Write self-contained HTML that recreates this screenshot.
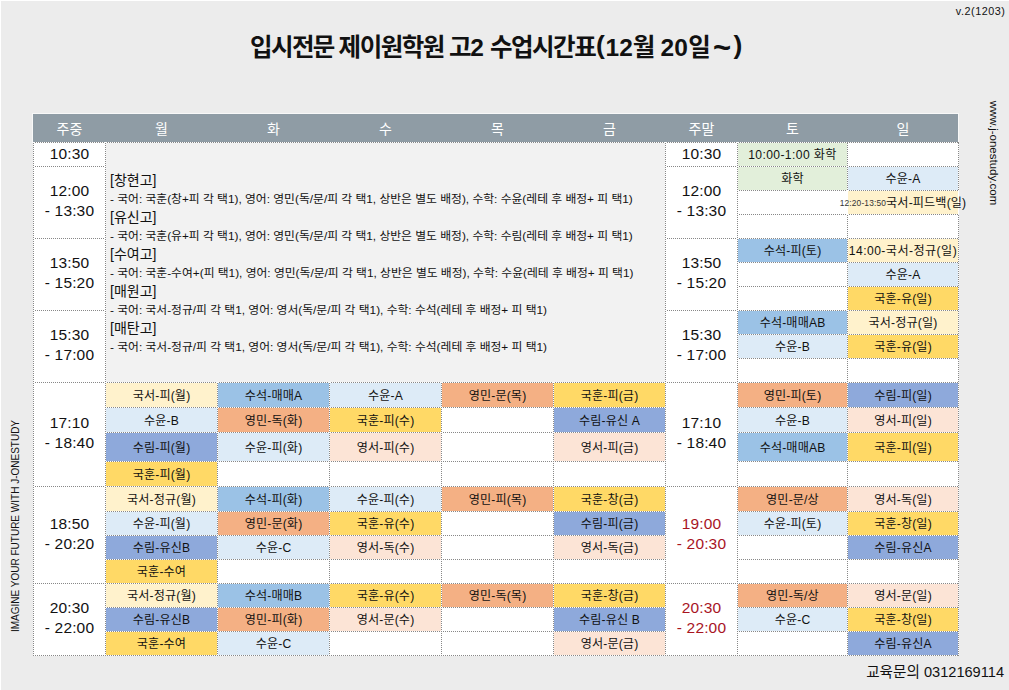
<!DOCTYPE html>
<html lang="ko"><head><meta charset="utf-8"><title>입시전문 제이원학원 고2 수업시간표</title>
<style>
*{margin:0;padding:0;box-sizing:border-box}
html,body{width:1009px;height:690px;overflow:hidden}
body{background:#ececec;font-family:'Liberation Sans','Noto Sans CJK KR',sans-serif;color:#111;position:relative}
#wt{position:absolute;left:0;top:0;width:1009px;height:1px;background:#fff}
#wl{position:absolute;left:0;top:0;width:1px;height:690px;background:#fff}
.a{position:absolute}
.r{position:absolute}
.t{position:absolute;display:flex;align-items:center;justify-content:center;text-align:center;white-space:nowrap;font-size:12.1px;line-height:1.2;padding-top:2px;letter-spacing:0.15px}
.h{position:absolute;height:1px;background:repeating-linear-gradient(90deg,#888888 0 1px,#fff 1px 2px)}
.v{position:absolute;width:1px;background:repeating-linear-gradient(180deg,#888888 0 1px,#fff 1px 2px)}
.hd{position:absolute;top:114px;height:28px;display:flex;align-items:center;justify-content:center;color:#fff;font-size:14px}
#ver{position:absolute;right:3.5px;top:5px;font-size:10.8px;letter-spacing:0.55px;color:#111}
#title{position:absolute;left:0;top:0;width:1009px;height:80px;font-weight:bold;color:#111}
#title span{position:absolute;white-space:nowrap;top:32.5px;font-size:24.5px;line-height:30px}
#hbar{position:absolute;left:33px;top:114px;width:925px;height:28px;background:#8f9ca5;box-shadow:0 0 0 1px #f8f8f8}
#tbl{position:absolute;left:33px;top:142px;width:926px;height:514px;background:#fff}
#merged{position:absolute;left:106px;top:143px;width:559px;height:239px;background:#f2f2f2}
#mtxt{position:absolute;left:110px;top:171px;white-space:nowrap}
.sh{font-size:14px;line-height:19px;height:19px}
.sd{font-size:11.8px;line-height:18px;height:18px}
#url{position:absolute;left:994px;top:153px;transform:translate(-50%,-50%) rotate(90deg);font-size:11.5px;white-space:nowrap;color:#111}
#slogan{position:absolute;left:15px;top:526px;transform:translate(-50%,-50%) rotate(-90deg);font-size:10px;white-space:nowrap;color:#111}
#tel{position:absolute;right:5px;top:660px;font-size:14.6px;white-space:nowrap;color:#111}
</style></head><body>
<div id="wt"></div><div id="wl"></div>
<div id="ver">v.2(1203)</div>
<div id="title"><span style="left:250px;letter-spacing:-1.6px;">입시전문</span><span style="left:338.6px;letter-spacing:-1.5px;">제이원학원</span><span style="left:449px;letter-spacing:-1.3px;">고2</span><span style="left:490px;letter-spacing:-1.5px;">수업시간표</span><span style="left:596px;letter-spacing:0px;font-size:26.5px;top:30px;">(</span><span style="left:605.5px;letter-spacing:0px;">12월</span><span style="left:660.4px;letter-spacing:0.3px;">20일</span><span style="left:713px;letter-spacing:0px;font-size:31px;top:33px;">~</span><span style="left:733.6px;letter-spacing:0px;font-size:26.5px;top:30px;">)</span></div>
<div id="hbar"></div>
<div class="hd" style="left:33px;width:73px">주중</div><div class="hd" style="left:105px;width:113px">월</div><div class="hd" style="left:217px;width:113px">화</div><div class="hd" style="left:329px;width:113px">수</div><div class="hd" style="left:441px;width:113px">목</div><div class="hd" style="left:553px;width:113px">금</div><div class="hd" style="left:665px;width:73px">주말</div><div class="hd" style="left:737px;width:111px">토</div><div class="hd" style="left:847px;width:112px">일</div>
<div id="tbl"></div>
<div id="merged"></div>
<div class="r" style="left:106px;top:383px;width:111px;height:24px;background:#fff2cc"></div>
<div class="t" style="left:105px;top:382px;width:113px;height:26px;">국서-피(월)</div>
<div class="r" style="left:106px;top:408px;width:111px;height:24px;background:#ddebf7"></div>
<div class="t" style="left:105px;top:407px;width:113px;height:26px;">수윤-B</div>
<div class="r" style="left:106px;top:433px;width:111px;height:28px;background:#8ea9db"></div>
<div class="t" style="left:105px;top:432px;width:113px;height:30px;">수림-피(월)</div>
<div class="r" style="left:106px;top:462px;width:111px;height:24px;background:#ffd966"></div>
<div class="t" style="left:105px;top:461px;width:113px;height:26px;">국훈-피(월)</div>
<div class="r" style="left:106px;top:487px;width:111px;height:24px;background:#fff2cc"></div>
<div class="t" style="left:105px;top:486px;width:113px;height:26px;">국서-정규(월)</div>
<div class="r" style="left:106px;top:512px;width:111px;height:23px;background:#ddebf7"></div>
<div class="t" style="left:105px;top:511px;width:113px;height:25px;">수윤-피(월)</div>
<div class="r" style="left:106px;top:536px;width:111px;height:23px;background:#8ea9db"></div>
<div class="t" style="left:105px;top:535px;width:113px;height:25px;">수림-유신B</div>
<div class="r" style="left:106px;top:560px;width:111px;height:23px;background:#ffd966"></div>
<div class="t" style="left:105px;top:559px;width:113px;height:25px;">국훈-수여</div>
<div class="r" style="left:106px;top:584px;width:111px;height:23px;background:#fff2cc"></div>
<div class="t" style="left:105px;top:583px;width:113px;height:25px;">국서-정규(월)</div>
<div class="r" style="left:106px;top:608px;width:111px;height:23px;background:#8ea9db"></div>
<div class="t" style="left:105px;top:607px;width:113px;height:25px;">수림-유신B</div>
<div class="r" style="left:106px;top:632px;width:111px;height:23px;background:#ffd966"></div>
<div class="t" style="left:105px;top:631px;width:113px;height:25px;">국훈-수여</div>
<div class="r" style="left:218px;top:383px;width:111px;height:24px;background:#9bc2e6"></div>
<div class="t" style="left:217px;top:382px;width:113px;height:26px;">수석-매매A</div>
<div class="r" style="left:218px;top:408px;width:111px;height:24px;background:#f4b084"></div>
<div class="t" style="left:217px;top:407px;width:113px;height:26px;">영민-독(화)</div>
<div class="r" style="left:218px;top:433px;width:111px;height:28px;background:#ddebf7"></div>
<div class="t" style="left:217px;top:432px;width:113px;height:30px;">수윤-피(화)</div>
<div class="r" style="left:218px;top:487px;width:111px;height:24px;background:#9bc2e6"></div>
<div class="t" style="left:217px;top:486px;width:113px;height:26px;">수석-피(화)</div>
<div class="r" style="left:218px;top:512px;width:111px;height:23px;background:#f4b084"></div>
<div class="t" style="left:217px;top:511px;width:113px;height:25px;">영민-문(화)</div>
<div class="r" style="left:218px;top:536px;width:111px;height:23px;background:#ddebf7"></div>
<div class="t" style="left:217px;top:535px;width:113px;height:25px;">수윤-C</div>
<div class="r" style="left:218px;top:584px;width:111px;height:23px;background:#9bc2e6"></div>
<div class="t" style="left:217px;top:583px;width:113px;height:25px;">수석-매매B</div>
<div class="r" style="left:218px;top:608px;width:111px;height:23px;background:#f4b084"></div>
<div class="t" style="left:217px;top:607px;width:113px;height:25px;">영민-피(화)</div>
<div class="r" style="left:218px;top:632px;width:111px;height:23px;background:#ddebf7"></div>
<div class="t" style="left:217px;top:631px;width:113px;height:25px;">수윤-C</div>
<div class="r" style="left:330px;top:383px;width:111px;height:24px;background:#ddebf7"></div>
<div class="t" style="left:329px;top:382px;width:113px;height:26px;">수윤-A</div>
<div class="r" style="left:330px;top:408px;width:111px;height:24px;background:#ffd966"></div>
<div class="t" style="left:329px;top:407px;width:113px;height:26px;">국훈-피(수)</div>
<div class="r" style="left:330px;top:433px;width:111px;height:28px;background:#fce4d6"></div>
<div class="t" style="left:329px;top:432px;width:113px;height:30px;">영서-피(수)</div>
<div class="r" style="left:330px;top:487px;width:111px;height:24px;background:#ddebf7"></div>
<div class="t" style="left:329px;top:486px;width:113px;height:26px;">수윤-피(수)</div>
<div class="r" style="left:330px;top:512px;width:111px;height:23px;background:#ffd966"></div>
<div class="t" style="left:329px;top:511px;width:113px;height:25px;">국훈-유(수)</div>
<div class="r" style="left:330px;top:536px;width:111px;height:23px;background:#fce4d6"></div>
<div class="t" style="left:329px;top:535px;width:113px;height:25px;">영서-독(수)</div>
<div class="r" style="left:330px;top:584px;width:111px;height:23px;background:#ffd966"></div>
<div class="t" style="left:329px;top:583px;width:113px;height:25px;">국훈-유(수)</div>
<div class="r" style="left:330px;top:608px;width:111px;height:23px;background:#fce4d6"></div>
<div class="t" style="left:329px;top:607px;width:113px;height:25px;">영서-문(수)</div>
<div class="r" style="left:442px;top:383px;width:111px;height:24px;background:#f4b084"></div>
<div class="t" style="left:441px;top:382px;width:113px;height:26px;">영민-문(목)</div>
<div class="r" style="left:442px;top:487px;width:111px;height:24px;background:#f4b084"></div>
<div class="t" style="left:441px;top:486px;width:113px;height:26px;">영민-피(목)</div>
<div class="r" style="left:442px;top:584px;width:111px;height:23px;background:#f4b084"></div>
<div class="t" style="left:441px;top:583px;width:113px;height:25px;">영민-독(목)</div>
<div class="r" style="left:554px;top:383px;width:111px;height:24px;background:#ffd966"></div>
<div class="t" style="left:553px;top:382px;width:113px;height:26px;">국훈-피(금)</div>
<div class="r" style="left:554px;top:408px;width:111px;height:24px;background:#8ea9db"></div>
<div class="t" style="left:553px;top:407px;width:113px;height:26px;">수림-유신 A</div>
<div class="r" style="left:554px;top:433px;width:111px;height:28px;background:#fce4d6"></div>
<div class="t" style="left:553px;top:432px;width:113px;height:30px;">영서-피(금)</div>
<div class="r" style="left:554px;top:487px;width:111px;height:24px;background:#ffd966"></div>
<div class="t" style="left:553px;top:486px;width:113px;height:26px;">국훈-창(금)</div>
<div class="r" style="left:554px;top:512px;width:111px;height:23px;background:#8ea9db"></div>
<div class="t" style="left:553px;top:511px;width:113px;height:25px;">수림-피(금)</div>
<div class="r" style="left:554px;top:536px;width:111px;height:23px;background:#fce4d6"></div>
<div class="t" style="left:553px;top:535px;width:113px;height:25px;">영서-독(금)</div>
<div class="r" style="left:554px;top:584px;width:111px;height:23px;background:#ffd966"></div>
<div class="t" style="left:553px;top:583px;width:113px;height:25px;">국훈-창(금)</div>
<div class="r" style="left:554px;top:608px;width:111px;height:23px;background:#8ea9db"></div>
<div class="t" style="left:553px;top:607px;width:113px;height:25px;">수림-유신 B</div>
<div class="r" style="left:554px;top:632px;width:111px;height:23px;background:#fce4d6"></div>
<div class="t" style="left:553px;top:631px;width:113px;height:25px;">영서-문(금)</div>
<div class="r" style="left:738px;top:383px;width:109px;height:24px;background:#f4b084"></div>
<div class="t" style="left:737px;top:382px;width:111px;height:26px;">영민-피(토)</div>
<div class="r" style="left:738px;top:408px;width:109px;height:24px;background:#ddebf7"></div>
<div class="t" style="left:737px;top:407px;width:111px;height:26px;">수윤-B</div>
<div class="r" style="left:738px;top:433px;width:109px;height:28px;background:#9bc2e6"></div>
<div class="t" style="left:737px;top:432px;width:111px;height:30px;">수석-매매AB</div>
<div class="r" style="left:738px;top:487px;width:109px;height:24px;background:#f4b084"></div>
<div class="t" style="left:737px;top:486px;width:111px;height:26px;">영민-문/상</div>
<div class="r" style="left:738px;top:512px;width:109px;height:23px;background:#ddebf7"></div>
<div class="t" style="left:737px;top:511px;width:111px;height:25px;">수윤-피(토)</div>
<div class="r" style="left:738px;top:584px;width:109px;height:23px;background:#f4b084"></div>
<div class="t" style="left:737px;top:583px;width:111px;height:25px;">영민-독/상</div>
<div class="r" style="left:738px;top:608px;width:109px;height:23px;background:#ddebf7"></div>
<div class="t" style="left:737px;top:607px;width:111px;height:25px;">수윤-C</div>
<div class="r" style="left:848px;top:383px;width:110px;height:24px;background:#8ea9db"></div>
<div class="t" style="left:847px;top:382px;width:112px;height:26px;">수림-피(일)</div>
<div class="r" style="left:848px;top:408px;width:110px;height:24px;background:#fce4d6"></div>
<div class="t" style="left:847px;top:407px;width:112px;height:26px;">영서-피(일)</div>
<div class="r" style="left:848px;top:433px;width:110px;height:28px;background:#ffd966"></div>
<div class="t" style="left:847px;top:432px;width:112px;height:30px;">국훈-피(일)</div>
<div class="r" style="left:848px;top:487px;width:110px;height:24px;background:#fce4d6"></div>
<div class="t" style="left:847px;top:486px;width:112px;height:26px;">영서-독(일)</div>
<div class="r" style="left:848px;top:512px;width:110px;height:23px;background:#ffd966"></div>
<div class="t" style="left:847px;top:511px;width:112px;height:25px;">국훈-창(일)</div>
<div class="r" style="left:848px;top:536px;width:110px;height:23px;background:#8ea9db"></div>
<div class="t" style="left:847px;top:535px;width:112px;height:25px;">수림-유신A</div>
<div class="r" style="left:848px;top:584px;width:110px;height:23px;background:#fce4d6"></div>
<div class="t" style="left:847px;top:583px;width:112px;height:25px;">영서-문(일)</div>
<div class="r" style="left:848px;top:608px;width:110px;height:23px;background:#ffd966"></div>
<div class="t" style="left:847px;top:607px;width:112px;height:25px;">국훈-창(일)</div>
<div class="r" style="left:848px;top:632px;width:110px;height:23px;background:#8ea9db"></div>
<div class="t" style="left:847px;top:631px;width:112px;height:25px;">수림-유신A</div>
<div class="r" style="left:738px;top:143px;width:109px;height:23px;background:#e2efda"></div>
<div class="t" style="left:737px;top:142px;width:111px;height:25px;letter-spacing:0.4px">10:00-1:00 화학</div>
<div class="r" style="left:738px;top:167px;width:109px;height:23px;background:#e2efda"></div>
<div class="t" style="left:737px;top:166px;width:111px;height:25px;">화학</div>
<div class="r" style="left:738px;top:239px;width:109px;height:23px;background:#9bc2e6"></div>
<div class="t" style="left:737px;top:238px;width:111px;height:25px;">수석-피(토)</div>
<div class="r" style="left:738px;top:311px;width:109px;height:23px;background:#9bc2e6"></div>
<div class="t" style="left:737px;top:310px;width:111px;height:25px;">수석-매매AB</div>
<div class="r" style="left:738px;top:335px;width:109px;height:23px;background:#ddebf7"></div>
<div class="t" style="left:737px;top:334px;width:111px;height:25px;">수윤-B</div>
<div class="r" style="left:848px;top:167px;width:110px;height:23px;background:#ddebf7"></div>
<div class="t" style="left:847px;top:166px;width:112px;height:25px;">수윤-A</div>
<div class="r" style="left:848px;top:191px;width:110px;height:23px;background:#fff2cc"></div>
<div class="t" style="left:847px;top:190px;width:112px;height:25px;"><span style="font-size:8.4px;color:#333">12:20-13:50</span>국서-피드백(일)</div>
<div class="r" style="left:848px;top:239px;width:110px;height:23px;background:#fff2cc"></div>
<div class="t" style="left:847px;top:238px;width:112px;height:25px;letter-spacing:0.45px">14:00-국서-정규(일)</div>
<div class="r" style="left:848px;top:263px;width:110px;height:23px;background:#ddebf7"></div>
<div class="t" style="left:847px;top:262px;width:112px;height:25px;">수윤-A</div>
<div class="r" style="left:848px;top:287px;width:110px;height:23px;background:#ffd966"></div>
<div class="t" style="left:847px;top:286px;width:112px;height:25px;">국훈-유(일)</div>
<div class="r" style="left:848px;top:311px;width:110px;height:23px;background:#fff2cc"></div>
<div class="t" style="left:847px;top:310px;width:112px;height:25px;">국서-정규(일)</div>
<div class="r" style="left:848px;top:335px;width:110px;height:23px;background:#ffd966"></div>
<div class="t" style="left:847px;top:334px;width:112px;height:25px;">국훈-유(일)</div>
<div class="t" style="left:33px;top:142px;width:73px;height:25px;font-size:15.5px;line-height:20px;padding-top:0;padding-bottom:1px">10:30</div>
<div class="t" style="left:33px;top:166px;width:73px;height:73px;font-size:15.5px;line-height:20px;padding-top:0;padding-bottom:2.5px">12:00<br>- 13:30</div>
<div class="t" style="left:33px;top:238px;width:73px;height:73px;font-size:15.5px;line-height:20px;padding-top:0;padding-bottom:2.5px">13:50<br>- 15:20</div>
<div class="t" style="left:33px;top:310px;width:73px;height:73px;font-size:15.5px;line-height:20px;padding-top:0;padding-bottom:2.5px">15:30<br>- 17:00</div>
<div class="t" style="left:33px;top:382px;width:73px;height:105px;font-size:15.5px;line-height:20px;padding-top:0;padding-bottom:2.5px">17:10<br>- 18:40</div>
<div class="t" style="left:33px;top:486px;width:73px;height:98px;font-size:15.5px;line-height:20px;padding-top:0;padding-bottom:2.5px">18:50<br>- 20:20</div>
<div class="t" style="left:33px;top:583px;width:73px;height:73px;font-size:15.5px;line-height:20px;padding-top:0;padding-bottom:2.5px">20:30<br>- 22:00</div>
<div class="t" style="left:665px;top:142px;width:73px;height:25px;font-size:15.5px;line-height:20px;padding-top:0;padding-bottom:1px;">10:30</div>
<div class="t" style="left:665px;top:166px;width:73px;height:73px;font-size:15.5px;line-height:20px;padding-top:0;padding-bottom:2.5px;">12:00<br>- 13:30</div>
<div class="t" style="left:665px;top:238px;width:73px;height:73px;font-size:15.5px;line-height:20px;padding-top:0;padding-bottom:2.5px;">13:50<br>- 15:20</div>
<div class="t" style="left:665px;top:310px;width:73px;height:73px;font-size:15.5px;line-height:20px;padding-top:0;padding-bottom:2.5px;">15:30<br>- 17:00</div>
<div class="t" style="left:665px;top:382px;width:73px;height:105px;font-size:15.5px;line-height:20px;padding-top:0;padding-bottom:2.5px;">17:10<br>- 18:40</div>
<div class="t" style="left:665px;top:486px;width:73px;height:98px;font-size:15.5px;line-height:20px;padding-top:0;padding-bottom:2.5px;color:#a8151f;">19:00<br>- 20:30</div>
<div class="t" style="left:665px;top:583px;width:73px;height:73px;font-size:15.5px;line-height:20px;padding-top:0;padding-bottom:2.5px;color:#a8151f;">20:30<br>- 22:00</div>
<div class="h" style="left:33px;top:142px;width:73px;"></div>
<div class="h" style="left:33px;top:166px;width:73px;"></div>
<div class="h" style="left:33px;top:238px;width:73px;"></div>
<div class="h" style="left:33px;top:310px;width:73px;"></div>
<div class="h" style="left:33px;top:382px;width:73px;"></div>
<div class="h" style="left:33px;top:486px;width:73px;"></div>
<div class="h" style="left:33px;top:583px;width:73px;"></div>
<div class="h" style="left:33px;top:655px;width:73px;"></div>
<div class="h" style="left:665px;top:142px;width:73px;"></div>
<div class="h" style="left:665px;top:166px;width:73px;"></div>
<div class="h" style="left:665px;top:238px;width:73px;"></div>
<div class="h" style="left:665px;top:310px;width:73px;"></div>
<div class="h" style="left:665px;top:382px;width:73px;"></div>
<div class="h" style="left:665px;top:486px;width:73px;"></div>
<div class="h" style="left:665px;top:583px;width:73px;"></div>
<div class="h" style="left:665px;top:655px;width:73px;"></div>
<div class="h" style="left:105px;top:142px;width:561px;"></div>
<div class="h" style="left:105px;top:382px;width:561px;"></div>
<div class="h" style="left:105px;top:382px;width:561px;"></div>
<div class="h" style="left:105px;top:407px;width:561px;"></div>
<div class="h" style="left:105px;top:432px;width:561px;"></div>
<div class="h" style="left:105px;top:461px;width:561px;"></div>
<div class="h" style="left:105px;top:486px;width:561px;"></div>
<div class="h" style="left:105px;top:511px;width:561px;"></div>
<div class="h" style="left:105px;top:535px;width:561px;"></div>
<div class="h" style="left:105px;top:559px;width:561px;"></div>
<div class="h" style="left:105px;top:583px;width:561px;"></div>
<div class="h" style="left:105px;top:607px;width:561px;"></div>
<div class="h" style="left:105px;top:631px;width:561px;"></div>
<div class="h" style="left:105px;top:655px;width:561px;"></div>
<div class="h" style="left:737px;top:142px;width:111px;"></div>
<div class="h" style="left:737px;top:166px;width:111px;"></div>
<div class="h" style="left:737px;top:190px;width:111px;"></div>
<div class="h" style="left:737px;top:214px;width:111px;"></div>
<div class="h" style="left:737px;top:238px;width:111px;"></div>
<div class="h" style="left:737px;top:262px;width:111px;"></div>
<div class="h" style="left:737px;top:286px;width:111px;"></div>
<div class="h" style="left:737px;top:310px;width:111px;"></div>
<div class="h" style="left:737px;top:334px;width:111px;"></div>
<div class="h" style="left:737px;top:358px;width:111px;"></div>
<div class="h" style="left:737px;top:382px;width:111px;"></div>
<div class="h" style="left:737px;top:407px;width:111px;"></div>
<div class="h" style="left:737px;top:432px;width:111px;"></div>
<div class="h" style="left:737px;top:461px;width:111px;"></div>
<div class="h" style="left:737px;top:486px;width:111px;"></div>
<div class="h" style="left:737px;top:511px;width:111px;"></div>
<div class="h" style="left:737px;top:535px;width:111px;"></div>
<div class="h" style="left:737px;top:559px;width:111px;"></div>
<div class="h" style="left:737px;top:583px;width:111px;"></div>
<div class="h" style="left:737px;top:607px;width:111px;"></div>
<div class="h" style="left:737px;top:631px;width:111px;"></div>
<div class="h" style="left:737px;top:655px;width:111px;"></div>
<div class="h" style="left:847px;top:142px;width:112px;"></div>
<div class="h" style="left:847px;top:166px;width:112px;"></div>
<div class="h" style="left:847px;top:190px;width:112px;"></div>
<div class="h" style="left:847px;top:214px;width:112px;"></div>
<div class="h" style="left:847px;top:238px;width:112px;"></div>
<div class="h" style="left:847px;top:262px;width:112px;"></div>
<div class="h" style="left:847px;top:286px;width:112px;"></div>
<div class="h" style="left:847px;top:310px;width:112px;"></div>
<div class="h" style="left:847px;top:334px;width:112px;"></div>
<div class="h" style="left:847px;top:358px;width:112px;"></div>
<div class="h" style="left:847px;top:382px;width:112px;"></div>
<div class="h" style="left:847px;top:407px;width:112px;"></div>
<div class="h" style="left:847px;top:432px;width:112px;"></div>
<div class="h" style="left:847px;top:461px;width:112px;"></div>
<div class="h" style="left:847px;top:486px;width:112px;"></div>
<div class="h" style="left:847px;top:511px;width:112px;"></div>
<div class="h" style="left:847px;top:535px;width:112px;"></div>
<div class="h" style="left:847px;top:559px;width:112px;"></div>
<div class="h" style="left:847px;top:583px;width:112px;"></div>
<div class="h" style="left:847px;top:607px;width:112px;"></div>
<div class="h" style="left:847px;top:631px;width:112px;"></div>
<div class="h" style="left:847px;top:655px;width:112px;"></div>
<div class="v" style="left:33px;top:142px;height:514px;background-position:0 1px;"></div>
<div class="v" style="left:105px;top:142px;height:514px;background-position:0 1px;"></div>
<div class="v" style="left:665px;top:142px;height:514px;background-position:0 1px;"></div>
<div class="v" style="left:737px;top:142px;height:514px;background-position:0 1px;"></div>
<div class="v" style="left:217px;top:382px;height:274px;background-position:0 1px;"></div>
<div class="v" style="left:329px;top:382px;height:274px;background-position:0 1px;"></div>
<div class="v" style="left:441px;top:382px;height:274px;background-position:0 1px;"></div>
<div class="v" style="left:553px;top:382px;height:274px;background-position:0 1px;"></div>
<div class="v" style="left:847px;top:142px;height:49px;background-position:0 1px;"></div>
<div class="v" style="left:847px;top:214px;height:442px;background-position:0 1px;"></div>
<div class="v" style="left:958px;top:142px;height:49px;background-position:0 1px;"></div>
<div class="v" style="left:958px;top:214px;height:442px;background-position:0 1px;"></div>
<div id="mtxt"><div class="sh">[창현고]</div><div class="sd">- 국어: 국훈(창+피 각 택1), 영어: 영민(독/문/피 각 택1, 상반은 별도 배정), 수학: 수윤(레테 후 배정+ 피 택1)</div><div class="sh">[유신고]</div><div class="sd">- 국어: 국훈(유+피 각 택1), 영어: 영민(독/문/피 각 택1, 상반은 별도 배정), 수학: 수림(레테 후 배정+ 피 택1)</div><div class="sh">[수여고]</div><div class="sd">- 국어: 국훈-수여+(피 택1), 영어: 영민(독/문/피 각 택1, 상반은 별도 배정), 수학: 수윤(레테 후 배정+ 피 택1)</div><div class="sh">[매원고]</div><div class="sd">- 국어: 국서-정규/피 각 택1, 영어: 영서(독/문/피 각 택1), 수학: 수석(레테 후 배정+ 피 택1)</div><div class="sh">[매탄고]</div><div class="sd">- 국어: 국서-정규/피 각 택1, 영어: 영서(독/문/피 각 택1), 수학: 수석(레테 후 배정+ 피 택1)</div></div>
<div id="url">www.j-onestudy.com</div>
<div id="slogan">IMAGINE YOUR FUTURE WITH J-ONESTUDY</div>
<div id="tel">교육문의 0312169114</div>
</body></html>
